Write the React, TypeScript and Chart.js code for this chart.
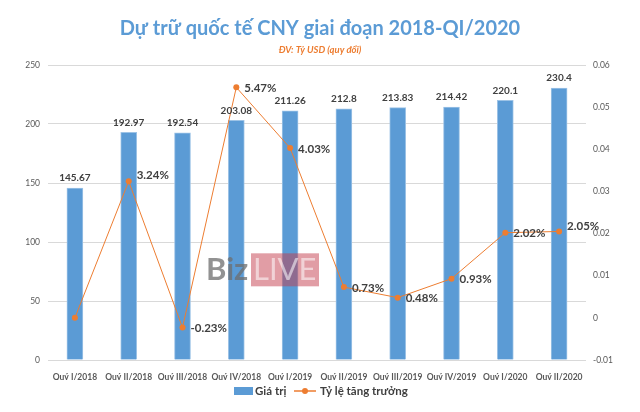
import React, { useEffect, useRef } from "react";
import { Chart, registerables } from "chart.js";

Chart.register(...registerables);

const categories = [
  "Quý I/2018", "Quý II/2018", "Quý III/2018", "Quý IV/2018", "Quý I/2019",
  "Quý II/2019", "Quý III/2019", "Quý IV/2019", "Quý I/2020", "Quý II/2020",
];
const values = [145.67, 192.97, 192.54, 203.08, 211.26, 212.8, 213.83, 214.42, 220.1, 230.4];
const growth = [0, 0.0324, -0.0023, 0.0547, 0.0403, 0.0073, 0.0048, 0.0093, 0.0202, 0.0205];
const growthLabels = ["", "3.24%", "-0.23%", "5.47%", "4.03%", "0.73%", "0.48%", "0.93%", "2.02%", "2.05%"];
const barLabels = ["145.67", "192.97", "192.54", "203.08", "211.26", "212.8", "213.83", "214.42", "220.1", "230.4"];

const TITLE = "Dự trữ quốc tế CNY giai đoạn 2018-QI/2020";
const SUBTITLE = "ĐV: Tỷ USD (quy đổi)";
const LEGEND_BAR = "Giá trị";
const LEGEND_LINE = "Tỷ lệ tăng trưởng";

const BLUE = "#5B9BD5";
const ORANGE = "#ED7D31";
const FONT = "Lato, 'Open Sans', sans-serif";

const overlayPlugin = {
  id: "overlay",
  afterDatasetsDraw(chart: any) {
    const ctx = chart.ctx;
    // watermark
    ctx.save();
    ctx.font = `bold 31px ${FONT}`;
    ctx.textBaseline = "middle";
    ctx.textAlign = "left";
    ctx.fillStyle = "rgba(110,110,110,0.75)";
    const wy = chart.scales.y.getPixelForValue(76);
    ctx.fillText("Biz", 206, wy);
    ctx.fillStyle = "rgba(196,60,75,0.5)";
    ctx.fillRect(251, wy - 17, 68, 33);
    ctx.font = `31px ${FONT}`;
    ctx.fillStyle = "rgba(255,255,255,0.55)";
    ctx.fillText("LIVE", 253, wy);
    ctx.restore();

    // bar labels
    const barMeta = chart.getDatasetMeta(0);
    ctx.save();
    ctx.font = `bold 10px ${FONT}`;
    ctx.fillStyle = "#404040";
    ctx.textAlign = "center";
    ctx.textBaseline = "middle";
    barMeta.data.forEach((el: any, i: number) => {
      ctx.fillText(barLabels[i], el.x, el.y - 10);
    });
    ctx.restore();

    // line labels
    const lineMeta = chart.getDatasetMeta(1);
    ctx.save();
    ctx.font = `bold 11.5px ${FONT}`;
    ctx.fillStyle = "#404040";
    ctx.textAlign = "left";
    ctx.textBaseline = "middle";
    lineMeta.data.forEach((el: any, i: number) => {
      if (!growthLabels[i]) return;
      const dy = i === 1 ? -6 : i === 9 ? -5 : 1;
      ctx.fillText(growthLabels[i], el.x + 8, el.y + dy);
    });
    ctx.restore();

    // title & subtitle
    ctx.save();
    ctx.textAlign = "center";
    ctx.textBaseline = "middle";
    ctx.font = `bold 20px ${FONT}`;
    ctx.fillStyle = BLUE;
    ctx.fillText(TITLE, 320, 29);
    ctx.font = `italic bold 9.5px ${FONT}`;
    ctx.fillStyle = ORANGE;
    ctx.fillText(SUBTITLE, 320, 50);
    ctx.restore();

    // legend
    ctx.save();
    const ly = 391;
    ctx.fillStyle = BLUE;
    ctx.fillRect(234, ly - 4, 19, 8);
    ctx.font = `bold 11.5px ${FONT}`;
    ctx.fillStyle = "#404040";
    ctx.textBaseline = "middle";
    ctx.textAlign = "left";
    ctx.fillText(LEGEND_BAR, 255, ly);
    ctx.strokeStyle = ORANGE;
    ctx.lineWidth = 1.5;
    ctx.beginPath();
    ctx.moveTo(294, ly);
    ctx.lineTo(316, ly);
    ctx.stroke();
    ctx.fillStyle = ORANGE;
    ctx.beginPath();
    ctx.arc(305, ly, 3, 0, Math.PI * 2);
    ctx.fill();
    ctx.fillStyle = "#404040";
    ctx.fillText(LEGEND_LINE, 320, ly);
    ctx.restore();
  },
};

export default function App() {
  const ref = useRef<HTMLCanvasElement>(null);
  useEffect(() => {
    document.body.style.margin = "0";
    const chart = new Chart(ref.current!, {
      data: {
        labels: categories,
        datasets: [
          {
            type: "bar",
            label: LEGEND_BAR,
            data: values,
            backgroundColor: BLUE,
            borderColor: "#9DC3E6",
            borderWidth: 1,
            barThickness: 16,
            yAxisID: "y",
            order: 2,
          },
          {
            type: "line",
            label: LEGEND_LINE,
            data: growth,
            borderColor: ORANGE,
            backgroundColor: ORANGE,
            borderWidth: 1,
            pointRadius: 3,
            pointBackgroundColor: ORANGE,
            pointBorderWidth: 0,
            yAxisID: "y1",
            order: 1,
          },
        ] as any,
      },
      plugins: [overlayPlugin],
      options: {
        responsive: false,
        animation: false,
        layout: { padding: { top: 65, bottom: 32, left: 0, right: 0 } },
        plugins: { legend: { display: false }, title: { display: false }, tooltip: { enabled: false } },
        scales: {
          x: {
            grid: { display: false },
            border: { display: false },
            ticks: { color: "#595959", font: { family: FONT, size: 8.5, weight: "bold" }, padding: 4, maxRotation: 0, autoSkip: false },
            afterFit: (s: any) => { s.height = 20; },
          },
          y: {
            position: "left",
            min: 0,
            max: 250,
            ticks: { stepSize: 50, color: "#595959", font: { family: FONT, size: 8.5 }, padding: 8 },
            grid: { color: "#D9D9D9", drawTicks: false },
            border: { display: false },
            afterFit: (s: any) => { s.width = 48; },
          },
          y1: {
            position: "right",
            min: -0.01,
            max: 0.06,
            ticks: {
              stepSize: 0.01,
              color: "#595959",
              font: { family: FONT, size: 8.5 },
              padding: 7,
              callback: (v: any) => String(Number(Number(v).toFixed(2))),
            },
            grid: { display: false, drawTicks: false },
            border: { display: false },
            afterFit: (s: any) => { s.width = 54; },
          },
        },
      } as any,
    });
    return () => chart.destroy();
  }, []);
  return (
    <div style={{ width: 640, height: 412, background: "#fff" }}>
      <canvas ref={ref} width={640} height={412} />
    </div>
  );
}
